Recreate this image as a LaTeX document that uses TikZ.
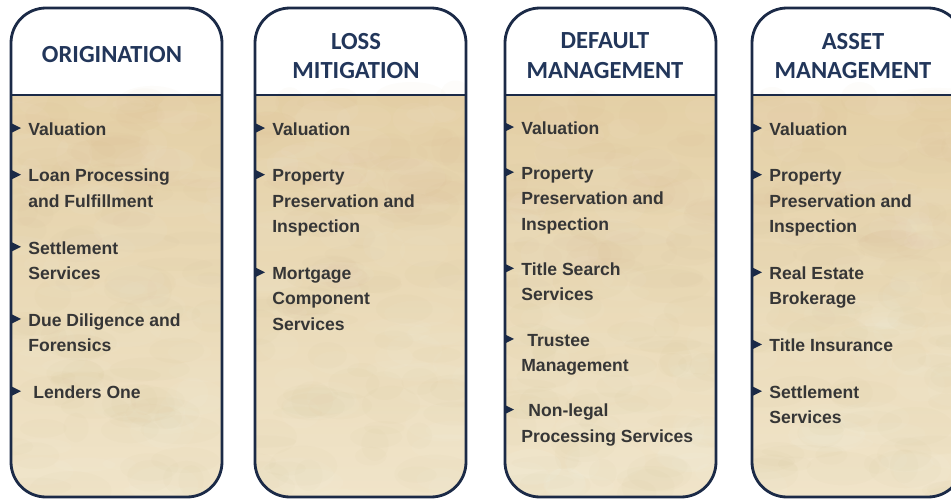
\documentclass[tikz,border=0pt]{standalone}
\usepackage{fontspec}
\setmainfont{Liberation Sans}
\newfontfamily\headfont{Carlito}
\usetikzlibrary{positioning,calc}

\begin{document}
\begin{tikzpicture}[x=0.02cm,y=-0.02cm]

      % Colours of the frames, the texts and the paper
      \definecolor{frameblue}{HTML}{1B2A47}
      \definecolor{headblue}{HTML}{22365A}
      \definecolor{itemgray}{HTML}{363636}
      \definecolor{parchtop}{HTML}{E4D0A6}
      \definecolor{parchbot}{HTML}{F0E4C9}
      \definecolor{parchdark}{HTML}{C9AE7C}

      \tikzstyle{panel}=[draw=frameblue, line width=1.6pt, rounded corners=0.7cm]
      \tikzstyle{heading}=[font=\headfont\bfseries\fontsize{14}{17}\selectfont, text=headblue, align=center, inner sep=0]
      \tikzstyle{item}=[font=\bfseries\fontsize{10}{14.5}\selectfont, text=itemgray, align=left, anchor=north west, inner sep=0]
      \tikzstyle{bullet}=[fill=frameblue]

      % Dimensions (in pixels of the x/y units)
      \def\pw{211}      % Width of one panel
      \def\ptop{8}      % Top edge of the panels
      \def\ph{489}      % Height of the panels
      \def\hy{95}       % Line between heading and list

      \useasboundingbox (0,0) rectangle (951,501);

      % The four panels: white heading, parchment body, frame
      \pgfmathsetseed{11}
      \foreach \x in {11,255,505,752} {
        \begin{scope}
          \clip [rounded corners=0.7cm] (\x,\ptop) rectangle ++(\pw,\ph);
          \fill [white] (\x,\ptop) rectangle ++(\pw,\hy-\ptop);
          \shade [top color=parchtop, bottom color=parchbot] (\x,\hy) rectangle (\x+\pw,\ptop+\ph);
          % faint mottling of the paper
          \foreach \i in {1,...,90} {
            \pgfmathsetmacro\bx{\x+rnd*\pw}
            \pgfmathsetmacro\by{\hy+rnd*(\ptop+\ph-\hy)}
            \pgfmathsetmacro\rx{12+rnd*30}
            \pgfmathsetmacro\ry{6+rnd*14}
            \fill [parchdark, opacity=0.035] (\bx,\by) ellipse ({\rx} and {\ry});
          }
          \foreach \i in {1,...,60} {
            \pgfmathsetmacro\bx{\x+rnd*\pw}
            \pgfmathsetmacro\by{\hy+rnd*(\ptop+\ph-\hy)}
            \pgfmathsetmacro\rx{12+rnd*30}
            \pgfmathsetmacro\ry{6+rnd*14}
            \fill [white, opacity=0.04] (\bx,\by) ellipse ({\rx} and {\ry});
          }
        \end{scope}
        \draw [frameblue, line width=1.6pt] (\x,\hy) -- ++(\pw,0);
        \draw [panel] (\x,\ptop) rectangle ++(\pw,\ph);
      }

      % Headings
      \node [heading] (ho) at (112,55) {ORIGINATION};
      \node [heading] (hl) at (356,56) {LOSS\\MITIGATION};
      \node [heading] (hd) at (605,56) {DEFAULT\\MANAGEMENT};
      \node [heading] (ha) at (853,56) {ASSET\\MANAGEMENT};

      % Origination
      \node [item] (o1) at (28,117) {\strut Valuation\strut};
      \node [item, below=0.41cm of o1.south west, anchor=north west] (o2) {\strut Loan Processing\\and Fulfillment\strut};
      \node [item, below=0.41cm of o2.south west, anchor=north west] (o3) {\strut Settlement\\Services\strut};
      \node [item, below=0.41cm of o3.south west, anchor=north west] (o4) {\strut Due Diligence and\\Forensics\strut};
      \node [item, below=0.41cm of o4.south west, anchor=north west] (o5) {\strut\hspace{0.1cm}Lenders One\strut};

      % Loss mitigation
      \node [item] (l1) at (272,117) {\strut Valuation\strut};
      \node [item, below=0.41cm of l1.south west, anchor=north west] (l2) {\strut Property\\Preservation and\\Inspection\strut};
      \node [item, below=0.41cm of l2.south west, anchor=north west] (l3) {\strut Mortgage\\Component\\Services\strut};

      % Default management
      \node [item] (d1) at (521,116) {\strut Valuation\strut};
      \node [item, below=0.38cm of d1.south west, anchor=north west] (d2) {\strut Property\\Preservation and\\Inspection\strut};
      \node [item, below=0.38cm of d2.south west, anchor=north west] (d3) {\strut Title Search\\Services\strut};
      \node [item, below=0.38cm of d3.south west, anchor=north west] (d4) {\strut\hspace{0.12cm}Trustee\\Management\strut};
      \node [item, below=0.38cm of d4.south west, anchor=north west] (d5) {\strut\hspace{0.14cm}Non-legal\\Processing Services\strut};

      % Asset management
      \node [item] (a1) at (769,117) {\strut Valuation\strut};
      \node [item, below=0.41cm of a1.south west, anchor=north west] (a2) {\strut Property\\Preservation and\\Inspection\strut};
      \node [item, below=0.41cm of a2.south west, anchor=north west] (a3) {\strut Real Estate\\Brokerage\strut};
      \node [item, below=0.41cm of a3.south west, anchor=north west] (a4) {\strut Title Insurance\strut};
      \node [item, below=0.41cm of a4.south west, anchor=north west] (a5) {\strut Settlement\\Services\strut};

      % Small arrow heads on the left frame
      \foreach \n in {o1,o2,o3,o4,o5,l1,l2,l3,d1,d2,d3,d4,d5,a1,a2,a3,a4,a5}
        \fill [bullet] ($(\n.north west)+(-17,6)$) -- ++(10,5) -- ++(-10,5) -- cycle;

   \end{tikzpicture}
\end{document}
